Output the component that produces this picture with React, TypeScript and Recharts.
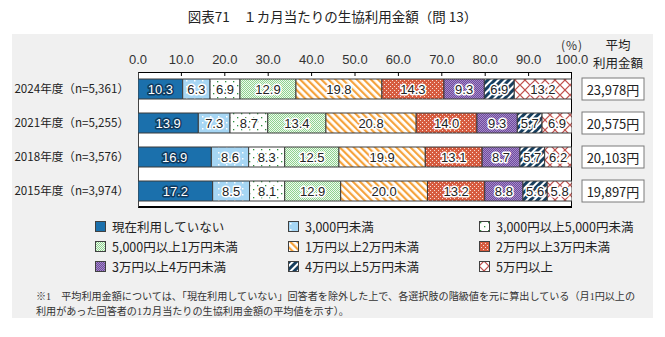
import React from "react";
import { Bar, BarChart, LabelList, Legend, XAxis, YAxis } from "recharts";

// survey years (top to bottom)
const years = [
  "2024年度（n=5,361）",
  "2021年度（n=5,255）",
  "2018年度（n=3,576）",
  "2015年度（n=3,974）",
];

const seriesNames = [
  "現在利用していない",
  "3,000円未満",
  "3,000円以上5,000円未満",
  "5,000円以上1万円未満",
  "1万円以上2万円未満",
  "2万円以上3万円未満",
  "3万円以上4万円未満",
  "4万円以上5万円未満",
  "5万円以上",
];

const notUsing = [10.3, 13.9, 16.9, 17.2];
const under3k = [6.3, 7.3, 8.6, 8.5];
const from3kTo5k = [6.9, 8.7, 8.3, 8.1];
const from5kTo10k = [12.9, 13.4, 12.5, 12.9];
const from10kTo20k = [19.8, 20.8, 19.9, 20.0];
const from20kTo30k = [14.3, 14.0, 13.1, 13.2];
const from30kTo40k = [9.3, 9.3, 8.7, 8.8];
const from40kTo50k = [6.9, 5.7, 5.7, 5.6];
const over50k = [13.2, 6.9, 6.2, 5.8];

const averages = ["23,978円", "20,575円", "20,103円", "19,897円"];
const xTicks = [0, 10, 20, 30, 40, 50, 60, 70, 80, 90, 100];

const seriesValues = [
  notUsing,
  under3k,
  from3kTo5k,
  from5kTo10k,
  from10kTo20k,
  from20kTo30k,
  from30kTo40k,
  from40kTo50k,
  over50k,
];

const data = years.map((year, i) => {
  const row: Record<string, string | number> = { year };
  seriesValues.forEach((vals, s) => {
    row[`s${s}`] = vals[i];
  });
  return row;
});

const fills = [
  "#1b70ac",
  "url(#p1)",
  "url(#p2)",
  "url(#p3)",
  "url(#p4)",
  "url(#p5)",
  "url(#p6)",
  "url(#p7)",
  "url(#p8)",
];

const JP = "'Noto Sans CJK JP', 'Noto Sans', sans-serif";
const NARROW = "'Liberation Sans Narrow', 'Liberation Sans', Arial, sans-serif";
const PLOT_TOP = 72;

function Patterns() {
  return (
    <svg width={0} height={0} style={{ position: "absolute" }}>
      <defs>
        <pattern id="p1" width={8} height={6} patternUnits="userSpaceOnUse">
          <rect width={8} height={6} fill="#a6d6f4" />
          <rect x={2} y={2} width={1.5} height={1.5} fill="#fff" />
        </pattern>
        <pattern id="p2" width={8} height={8} patternUnits="userSpaceOnUse">
          <rect width={8} height={8} fill="#fff" />
          <rect x={1} y={1} width={1.3} height={1.3} fill="#2f8f3f" />
          <rect x={5} y={5} width={1.3} height={1.3} fill="#2f8f3f" />
        </pattern>
        <pattern id="p3" width={2} height={2} patternUnits="userSpaceOnUse">
          <rect width={2} height={2} fill="#eef9ee" />
          <rect x={0} y={0} width={1} height={1} fill="#8fd28f" />
          <rect x={1} y={1} width={1} height={1} fill="#8fd28f" />
        </pattern>
        <pattern
          id="p4"
          width={5}
          height={5}
          patternUnits="userSpaceOnUse"
          patternTransform="rotate(-45)"
        >
          <rect width={5} height={5} fill="#fff" />
          <rect width={2.2} height={5} fill="#f5a33d" />
        </pattern>
        <pattern id="p5" width={4} height={4} patternUnits="userSpaceOnUse">
          <rect width={4} height={4} fill="#d65c40" />
          <rect x={0} y={0} width={1} height={1} fill="#f8dcd4" />
          <rect x={2} y={2} width={1} height={1} fill="#f8dcd4" />
        </pattern>
        <pattern id="p6" width={2} height={2} patternUnits="userSpaceOnUse">
          <rect width={2} height={2} fill="#6f4a9e" />
          <rect x={0} y={0} width={1} height={1} fill="#a58cc8" />
          <rect x={1} y={1} width={1} height={1} fill="#a58cc8" />
        </pattern>
        <pattern
          id="p7"
          width={5}
          height={5}
          patternUnits="userSpaceOnUse"
          patternTransform="rotate(45)"
        >
          <rect width={5} height={5} fill="#fff" />
          <rect width={3} height={5} fill="#163e5e" />
        </pattern>
        <pattern id="p8" width={10} height={10} patternUnits="userSpaceOnUse">
          <rect width={10} height={10} fill="#fff" />
          <path d="M0,5 L5,0 L10,5 L5,10 Z" fill="none" stroke="#c0504d" strokeWidth={1.2} />
        </pattern>
      </defs>
    </svg>
  );
}

function TopTick(props: any) {
  const { x, payload } = props;
  const v = Number(payload.value);
  return (
    <g>
      <text
        x={x}
        y={PLOT_TOP - 8.5}
        textAnchor="middle"
        fontSize={13}
        fontFamily={NARROW}
        fill="#333"
      >
        {v.toFixed(1)}
      </text>
      {v > 0 && v < 100 && (
        <line x1={x} x2={x} y1={PLOT_TOP} y2={PLOT_TOP + 4} stroke="#000" />
      )}
    </g>
  );
}

function AvgTick(props: any) {
  const { x, y, payload } = props;
  const idx = years.indexOf(payload.value);
  return (
    <g>
      <rect x={x + 2} y={y - 11} width={62} height={22} fill="#fff" stroke="#7a7a7a" />
      <text
        x={x + 33}
        y={y}
        textAnchor="middle"
        dominantBaseline="central"
        fontSize={13}
        fontFamily={JP}
        fill="#222"
      >
        {averages[idx]}
      </text>
    </g>
  );
}

function makeLabel(dark: boolean) {
  return (props: any) => {
    const { x, y, width, height, value } = props;
    if (value == null) return null;
    return (
      <text
        x={x + width / 2}
        y={y + height / 2}
        textAnchor="middle"
        dominantBaseline="central"
        fontSize={13}
        fontFamily={NARROW}
        fill={dark ? "#fff" : "#222"}
        stroke={dark ? "#0f3a5e" : "#fff"}
        strokeWidth={3}
        strokeLinejoin="round"
        paintOrder="stroke"
      >
        {Number(value).toFixed(1)}
      </text>
    );
  };
}

function LegendBox() {
  return (
    <div
      style={{
        display: "grid",
        gridTemplateColumns: "193px 191px 180px",
        gridAutoRows: "20px",
        marginLeft: 95,
        fontFamily: JP,
        fontSize: 12.5,
        color: "#222",
      }}
    >
      {seriesNames.map((name, i) => (
        <div key={name} style={{ display: "flex", alignItems: "center", whiteSpace: "nowrap" }}>
          <svg width={11} height={11} style={{ flex: "none" }}>
            <rect x={0.5} y={0.5} width={10} height={10} fill={fills[i]} stroke="#404040" />
          </svg>
          <span style={{ marginLeft: 6 }}>{name}</span>
        </div>
      ))}
    </div>
  );
}

const abs = (left: number, top: number, extra: React.CSSProperties = {}): React.CSSProperties => ({
  position: "absolute",
  left,
  top,
  ...extra,
});

export default function App() {
  return (
    <div
      style={{
        position: "absolute",
        left: 0,
        top: 0,
        width: 665,
        height: 337,
        background: "#fff",
        overflow: "hidden",
        fontFamily: JP,
      }}
    >
      <Patterns />
      <div
        style={abs(0, 6, {
          width: 665,
          textAlign: "center",
          fontSize: 13.5,
          color: "#222",
          lineHeight: "20px",
        })}
      >
        図表71　１カ月当たりの生協利用金額（問 13）
      </div>
      <div style={abs(12, 34, { width: 641, height: 284, background: "#f0f0f0" })} />
      <div
        style={abs(138, 72, {
          width: 434,
          height: 136,
          background: "#fff",
          boxSizing: "border-box",
          borderTop: "1px solid #000",
          borderRight: "1px solid #000",
          borderLeft: "1px solid #444",
          borderBottom: "2px solid #000",
        })}
      />
      <div
        style={abs(552, 38, {
          width: 40,
          textAlign: "center",
          fontSize: 12,
          color: "#333",
          lineHeight: "13px",
          letterSpacing: 1,
        })}
      >
        (%)
      </div>
      <div
        style={abs(583, 36, { width: 70, textAlign: "center", fontSize: 12.5, color: "#222", lineHeight: "18px" })}
      >
        平均
        <br />
        利用金額
      </div>
      <div style={abs(0, 0)}>
        <BarChart
          width={665}
          height={337}
          data={data}
          layout="vertical"
          margin={{ top: 42, right: 8, bottom: 129, left: 8 }}
          barSize={20}
        >
          <XAxis
            type="number"
            orientation="top"
            domain={[0, 100]}
            ticks={xTicks}
            interval={0}
            allowDataOverflow
            height={30}
            axisLine={false}
            tickLine={false}
            tick={<TopTick />}
          />
          <YAxis
            type="category"
            dataKey="year"
            width={130}
            axisLine={false}
            tickLine={false}
            tickMargin={3}
            tick={{ fontSize: 11.6, fontFamily: JP, fill: "#222" }}
          />
          <YAxis
            yAxisId="avg"
            orientation="right"
            type="category"
            dataKey="year"
            width={85}
            axisLine={false}
            tickLine={false}
            tick={<AvgTick />}
          />
          {seriesNames.map((name, i) => (
            <Bar
              key={name}
              dataKey={`s${i}`}
              name={name}
              stackId="a"
              fill={fills[i]}
              stroke="#3a3a3a"
              strokeWidth={1}
              isAnimationActive={false}
            >
              <LabelList dataKey={`s${i}`} content={makeLabel(i === 0)} />
            </Bar>
          ))}
          <Legend
            layout="horizontal"
            verticalAlign="middle"
            align="center"
            wrapperStyle={{ left: 0, top: 216, width: 665 }}
            content={() => <LegendBox />}
          />
        </BarChart>
      </div>
      <div
        style={abs(36, 289, {
          fontFamily: "'Liberation Serif', 'Noto Sans CJK JP', serif",
          fontSize: 10.1,
          lineHeight: "15px",
          color: "#333",
          whiteSpace: "nowrap",
        })}
      >
        ※1　平均利用金額については、「現在利用していない」回答者を除外した上で、各選択肢の階級値を元に算出している（月1円以上の
        <br />
        利用があった回答者の1カ月当たりの生協利用金額の平均値を示す）。
      </div>
    </div>
  );
}
